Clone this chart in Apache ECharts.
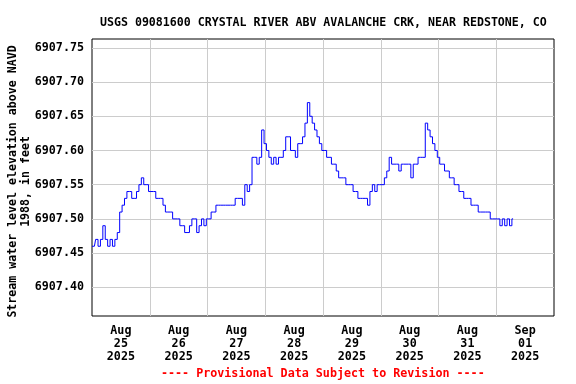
<!DOCTYPE html>
<html lang="en">
<head>
<meta charset="utf-8">
<title>USGS 09081600</title>
<script src="https://cdn.jsdelivr.net/npm/echarts@6/dist/echarts.min.js"></script>
<style>
  html, body { margin: 0; padding: 0; background: #fff; }
  #chart { width: 576px; height: 384px; }
</style>
</head>
<body>
<div id="chart"></div>
<script>
// hourly readings starting Aug 25 2025 00:00 (x = hours since then)
var levelFt = [
  6907.46, 6907.46, 6907.47, 6907.46, 6907.47, 6907.49, 6907.47, 6907.46, 6907.47, 6907.46, 6907.47, 6907.48,
  6907.51, 6907.52, 6907.53, 6907.54, 6907.54, 6907.53, 6907.53, 6907.54, 6907.55, 6907.56, 6907.55, 6907.55,
  6907.54, 6907.54, 6907.54, 6907.53, 6907.53, 6907.53, 6907.52, 6907.51, 6907.51, 6907.51, 6907.50, 6907.50,
  6907.50, 6907.49, 6907.49, 6907.48, 6907.48, 6907.49, 6907.50, 6907.50, 6907.48, 6907.49, 6907.50, 6907.49,
  6907.50, 6907.50, 6907.51, 6907.51, 6907.52, 6907.52, 6907.52, 6907.52, 6907.52, 6907.52, 6907.52, 6907.52,
  6907.53, 6907.53, 6907.53, 6907.52, 6907.55, 6907.54, 6907.55, 6907.59, 6907.59, 6907.58, 6907.59, 6907.63,
  6907.61, 6907.60, 6907.59, 6907.58, 6907.59, 6907.58, 6907.59, 6907.59, 6907.60, 6907.62, 6907.62, 6907.60,
  6907.60, 6907.59, 6907.61, 6907.61, 6907.62, 6907.64, 6907.67, 6907.65, 6907.64, 6907.63, 6907.62, 6907.61,
  6907.60, 6907.60, 6907.59, 6907.59, 6907.58, 6907.58, 6907.57, 6907.56, 6907.56, 6907.56, 6907.55, 6907.55,
  6907.55, 6907.54, 6907.54, 6907.53, 6907.53, 6907.53, 6907.53, 6907.52, 6907.54, 6907.55, 6907.54, 6907.55,
  6907.55, 6907.55, 6907.56, 6907.57, 6907.59, 6907.58, 6907.58, 6907.58, 6907.57, 6907.58, 6907.58, 6907.58,
  6907.58, 6907.56, 6907.58, 6907.58, 6907.59, 6907.59, 6907.59, 6907.64, 6907.63, 6907.62, 6907.61, 6907.60,
  6907.59, 6907.58, 6907.58, 6907.57, 6907.57, 6907.56, 6907.56, 6907.55, 6907.55, 6907.54, 6907.54, 6907.53,
  6907.53, 6907.53, 6907.52, 6907.52, 6907.52, 6907.51, 6907.51, 6907.51, 6907.51, 6907.51, 6907.50, 6907.50,
  6907.50, 6907.50, 6907.49, 6907.50, 6907.49, 6907.50, 6907.49, 6907.50
];
var yTicks = [6907.40, 6907.45, 6907.50, 6907.55, 6907.60, 6907.65, 6907.70, 6907.75];
var dayMonths = ['Aug', 'Aug', 'Aug', 'Aug', 'Aug', 'Aug', 'Aug', 'Sep'];
var dayNums = ['25', '26', '27', '28', '29', '30', '31', '01'];
var dayYear = '2025';

var font = 'DejaVu Sans Mono';

var series = levelFt.map(function (v, i) { return [i, v]; });
var noonTicks = dayNums.map(function (d, i) { return i * 24 + 12; });
var midnightTicks = [];
for (var i = 1; i < dayNums.length; i++) midnightTicks.push(i * 24);

var chart = echarts.init(document.getElementById('chart'));
chart.setOption({
  animation: false,
  backgroundColor: '#fff',
  title: {
    text: 'USGS 09081600 CRYSTAL RIVER ABV AVALANCHE CRK, NEAR REDSTONE, CO',
    left: 95, top: 12,
    textStyle: { fontFamily: font, fontSize: 11.6, fontWeight: 'bold', color: '#000' }
  },
  graphic: [{
    type: 'text', left: 161, top: 368,
    style: {
      text: '---- Provisional Data Subject to Revision ----',
      font: 'bold 11.7px "DejaVu Sans Mono"', fill: '#ff0000'
    }
  }],
  grid: {
    left: 92, right: 22, top: 39, bottom: 68,
    outerBoundsMode: 'none', containLabel: false,
    show: true, borderColor: '#000', borderWidth: 1, backgroundColor: 'transparent'
  },
  xAxis: {
    type: 'value',
    min: 0,
    max: dayNums.length * 24,
    axisLine: { show: false },
    axisTick: { show: false, customValues: midnightTicks },
    splitLine: { show: true, lineStyle: { color: '#cccccc', width: 1 } },
    axisLabel: {
      customValues: noonTicks,
      margin: 9,
      fontFamily: font, fontSize: 11.7, fontWeight: 'bold', color: '#000',
      lineHeight: 12.8, align: 'center',
      formatter: function (val) {
        var k = Math.round((val - 12) / 24);
        return dayMonths[k] + '\n' + dayNums[k] + '\n' + dayYear;
      }
    }
  },
  yAxis: {
    type: 'value',
    min: 6907.358, max: 6907.763,
    name: 'Stream water level elevation above NAVD\n1988, in feet',
    nameLocation: 'middle', nameRotate: 90, nameGap: 60,
    nameMoveOverlap: false,
    nameTextStyle: {
      fontFamily: font, fontSize: 11.6, fontWeight: 'bold', color: '#000', lineHeight: 13,
      padding: [0, 8, 0, 0]
    },
    axisLine: { show: false },
    axisTick: { show: false, customValues: yTicks },
    splitLine: { show: true, lineStyle: { color: '#cccccc', width: 1 } },
    axisLabel: {
      customValues: yTicks,
      margin: 8,
      fontFamily: font, fontSize: 11.7, fontWeight: 'bold', color: '#000',
      formatter: function (v) { return v.toFixed(2); }
    }
  },
  series: [{
    type: 'line',
    step: 'middle',
    data: series,
    showSymbol: false,
    lineStyle: { color: '#0000ff', width: 1 }
  }]
});
</script>
</body>
</html>
